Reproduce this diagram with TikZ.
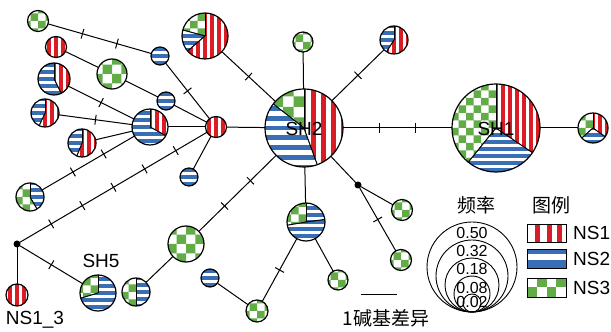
\documentclass[tikz,border=0pt]{standalone}
\usepackage{fontspec}
\setmainfont{Liberation Sans}
\newfontfamily\cjk{Noto Sans CJK SC}
\usetikzlibrary{calc}
\definecolor{nsred}{RGB}{218,28,36}
\definecolor{nsblue}{RGB}{58,110,180}
\definecolor{nsgreen}{RGB}{98,172,72}
\newcommand\pscale{1}
\newcommand{\patR}[2]{%
  \pgfmathsetmacro\hpp{7*\pscale}%
  \pgfmathsetmacro\hww{3.3*\pscale}%
  \pgfmathtruncatemacro\hnn{#2/\hpp+1}%
  \foreach \k in {-\hnn,...,\hnn}{%
    \fill[nsred] ($(#1.center)+(\k*\hpp-0.5*\hww,-#2-1)$) rectangle ++(\hww,2*#2+2);}%
}
\newcommand{\patB}[2]{%
  \pgfmathsetmacro\hpp{7*\pscale}%
  \pgfmathsetmacro\hww{3.5*\pscale}%
  \pgfmathtruncatemacro\hnn{#2/\hpp+1}%
  \foreach \k in {-\hnn,...,\hnn}{%
    \fill[nsblue] ($(#1.center)+(-#2-1,\k*\hpp-0.5*\hww)$) rectangle ++(2*#2+2,\hww);}%
}
\newcommand{\patG}[2]{%
  \pgfmathsetmacro\hss{7.5*\pscale}%
  \pgfmathtruncatemacro\hnn{#2/(2*\hss)+1}%
  \fill[nsgreen,even odd rule] \foreach \k in {-\hnn,...,\hnn}{
    ($(#1.center)+(2*\k*\hss,-#2-\hss)$) rectangle ++(\hss,2*#2+2*\hss)
    ($(#1.center)+(-#2-\hss,2*\k*\hss)$) rectangle ++(2*#2+2*\hss,\hss)};%
}
\newcommand{\hslice}[5]{%
  \begin{scope}
    \clip (#1.center) -- ++(#3:#2) arc[start angle=#3, end angle=#4, radius=#2] -- cycle;
    \fill[white] (#1.center) circle[radius=#2+1];
    \csname pat#5\endcsname{#1}{#2}%
  \end{scope}
  \draw[sl] (#1.center) -- ++(#3:#2);
  \draw[sl] (#1.center) -- ++(#4:#2);
}
\newcommand{\hfull}[3]{%
  \begin{scope}
    \clip (#1.center) circle[radius=#2];
    \fill[white] (#1.center) circle[radius=#2];
    \csname pat#3\endcsname{#1}{#2}%
  \end{scope}
}
\newcommand{\hring}[2]{\draw[hring] (#1.center) circle[radius=#2];}
\newcommand{\tkr}{\rule{1pt}{10pt}}
\tikzset{
  hap/.style={circle,inner sep=0pt,outer sep=0pt,minimum size=#1},
  jdot/.style={circle,fill=black,inner sep=0pt,outer sep=0pt,minimum size=7pt},
  lnk/.style={line width=1pt},
  tk/.style={sloped,inner sep=0pt,outer sep=0pt,anchor=center},
  sl/.style={line width=0.9pt},
  hring/.style={line width=1.2pt},
  lab/.style={font=\fontsize{19}{22}\selectfont,inner sep=0pt},
  cjklab/.style={font=\cjk\fontsize{19}{22}\selectfont,inner sep=0pt},
  frq/.style={font=\fontsize{16}{18}\selectfont,inner sep=0pt},
  legc/.style={line width=0.9pt}
}
\begin{document}
\begin{tikzpicture}[x=1pt,y=1pt]
\useasboundingbox (0,0) rectangle (611,332);
% nodes
\node[hap=21] (A) at (38,311) {};
\node[hap=21] (B) at (56,285) {};
\node[hap=18] (C) at (160,276) {};
\node[hap=30] (D) at (112,258) {};
\node[hap=32] (E) at (54,253) {};
\node[hap=18] (F) at (166,231) {};
\node[hap=28] (G) at (45,219) {};
\node[hap=36] (H) at (150,205) {};
\node[hap=21] (I) at (216,205) {};
\node[hap=28] (J) at (82,189) {};
\node[hap=18] (K) at (189,155) {};
\node[hap=28] (L) at (30,135) {};
\node[jdot] (M) at (17,88) {};
\node[hap=22] (NA) at (17,37) {};
\node[hap=36] (SHe) at (98,39) {};
\node[hap=28] (N) at (136,40) {};
\node[hap=36] (O) at (186,88) {};
\node[hap=18] (P) at (210,54) {};
\node[hap=78] (SHb) at (304,204) {};
\node[hap=20] (Q) at (303,290) {};
\node[hap=28] (R) at (394,292) {};
\node[hap=46] (S) at (205,296) {};
\node[hap=88] (SHa) at (496,204) {};
\node[hap=30] (T) at (593,204) {};
\node[hap=38] (U) at (306,110) {};
\node[hap=20] (V) at (338,52) {};
\node[hap=22] (W) at (257,21) {};
\node[jdot] (X) at (358,147) {};
\node[hap=21] (Y) at (402,122) {};
\node[hap=21] (Z) at (401,72) {};
% edges
\draw[lnk] (A) -- node[tk,pos=0.3333]{\tkr} node[tk,pos=0.6667]{\tkr} (C);
\draw[lnk] (B) -- (D);
\draw[lnk] (D) -- (F);
\draw[lnk] (F) -- (I);
\draw[lnk] (C) -- node[tk,pos=0.5]{\tkr} (I);
\draw[lnk] (E) -- node[tk,pos=0.5]{\tkr} (H);
\draw[lnk] (G) -- node[tk,pos=0.5]{\tkr} (H);
\draw[lnk] (J) -- (H);
\draw[lnk] (L) -- node[tk,pos=0.3333]{\tkr} node[tk,pos=0.6667]{\tkr} (H);
\draw[lnk] (H) -- (I);
\draw[lnk] (I) -- (K);
\draw[lnk] (M) -- node[tk,pos=0.1667]{\tkr} node[tk,pos=0.3333]{\tkr} node[tk,pos=0.5]{\tkr} node[tk,pos=0.6667]{\tkr} node[tk,pos=0.8333]{\tkr} (I);
\draw[lnk] (M) -- (NA);
\draw[lnk] (M) -- node[tk,pos=0.5]{\tkr} (SHe);
\draw[lnk] (I) -- (SHb);
\draw[lnk] (S) -- node[tk,pos=0.5]{\tkr} (SHb);
\draw[lnk] (Q) -- (SHb);
\draw[lnk] (R) -- node[tk,pos=0.5]{\tkr} (SHb);
\draw[lnk] (SHb) -- node[tk,pos=0.3333]{\tkr} node[tk,pos=0.6667]{\tkr} (SHa);
\draw[lnk] (SHa) -- (T);
\draw[lnk] (SHb) -- (U);
\draw[lnk] (SHb) -- (X);
\draw[lnk] (X) -- (Y);
\draw[lnk] (X) -- node[tk,pos=0.5]{\tkr} (Z);
\draw[lnk] (U) -- (V);
\draw[lnk] (U) -- node[tk,pos=0.5]{\tkr} (W);
\draw[lnk] (O) -- node[tk,pos=0.3333]{\tkr} node[tk,pos=0.6667]{\tkr} (SHb);
\draw[lnk] (N) -- (O);
\draw[lnk] (P) -- (W);
% pies
\hfull{A}{10.5}{G}\hring{A}{10.5}
\hfull{B}{10.5}{R}\hring{B}{10.5}
\hfull{C}{9}{B}\hring{C}{9}
\renewcommand\pscale{1.25}
\hfull{D}{15}{G}\hring{D}{15}
\hfull{O}{18}{G}\hring{O}{18}
\renewcommand\pscale{1}
\hslice{E}{16}{-63}{90}{R}\hslice{E}{16}{90}{297}{B}\hring{E}{16}
\hfull{F}{9}{B}\hring{F}{9}
\hslice{G}{14}{-115}{90}{R}\hslice{G}{14}{90}{245}{B}\hring{G}{14}
\hslice{H}{18}{-29}{90}{R}\hslice{H}{18}{90}{331}{B}\hring{H}{18}
\hfull{I}{10.5}{R}\hring{I}{10.5}
\hslice{J}{14}{-112}{90}{R}\hslice{J}{14}{90}{248}{B}\hring{J}{14}
\hfull{K}{9}{B}\hring{K}{9}
\hslice{L}{14}{-60}{90}{B}\hslice{L}{14}{90}{300}{G}\hring{L}{14}
\hfull{NA}{11}{R}\hring{NA}{11}
\hslice{SHe}{18}{90}{197}{G}\hslice{SHe}{18}{197}{450}{B}\hring{SHe}{18}
\hslice{N}{14}{90}{270}{G}\hslice{N}{14}{-90}{90}{B}\hring{N}{14}
\hfull{P}{9}{B}\hring{P}{9}
\renewcommand\pscale{1.4}
\hslice{SHb}{39}{90}{142}{G}\hslice{SHb}{39}{142}{290}{B}\hslice{SHb}{39}{-70}{90}{R}\hring{SHb}{39}
\renewcommand\pscale{1}
\hfull{Q}{10}{G}\hring{Q}{10}
\hslice{R}{14}{90}{238}{B}\hslice{R}{14}{-122}{90}{R}\hring{R}{14}
\hslice{S}{23}{90}{165}{G}\hslice{S}{23}{165}{221}{B}\hslice{S}{23}{-139}{90}{R}\hring{S}{23}
\hslice{SHa}{44}{90}{231}{G}\hslice{SHa}{44}{231}{326}{B}\hslice{SHa}{44}{-34}{90}{R}\hring{SHa}{44}
\hslice{T}{15}{90}{222}{G}\hslice{T}{15}{222}{325}{B}\hslice{T}{15}{-35}{90}{R}\hring{T}{15}
\hslice{U}{19}{90}{190}{G}\hslice{U}{19}{190}{368}{B}\hslice{U}{19}{8}{90}{B}\hring{U}{19}
\hfull{V}{10}{G}\hring{V}{10}
\hfull{W}{11}{G}\hring{W}{11}
\hfull{Y}{10.5}{G}\hring{Y}{10.5}
\hfull{Z}{10.5}{G}\hring{Z}{10.5}
% labels
\node[lab,anchor=base] (tSHb) at (304,196) {SH2};
\node[lab,anchor=base] (tSHa) at (496,196) {SH1};
\node[lab,anchor=base] (tSHe) at (101,64) {SH5};
\node[lab,anchor=base] (tNA) at (35,7) {NS1\_3};
% scale bar
\coordinate (sb1) at (361,37);
\coordinate (sb2) at (397,37);
\draw[lnk] (sb1) -- (sb2);
\node[cjklab] (tsb) at (386,14) {1碱基差异};
% frequency legend
\node[cjklab] (tfrq) at (476,127) {频率};
\node[cjklab] (tleg) at (551.5,127) {图例};
\coordinate (fb) at (472,20);
\draw[legc] ($(fb)+(0,45)$) circle[radius=45];
\draw[legc] ($(fb)+(0,36)$) circle[radius=36];
\draw[legc] ($(fb)+(0,27)$) circle[radius=27];
\draw[legc] ($(fb)+(0,18)$) circle[radius=18];
\draw[legc] ($(fb)+(0,9)$) circle[radius=9];
\node[frq] (f1) at (472,99) {0.50};
\node[frq] (f2) at (472,81) {0.32};
\node[frq] (f3) at (472,63) {0.18};
\node[frq] (f4) at (472,44) {0.08};
\node[frq] (f5) at (472,30) {0.02};
% pattern legend
\fill[white] (527,90) rectangle (566,108);
\fill[nsred] (535,90) rectangle (540,108);
\fill[nsred] (546.5,90) rectangle (551.5,108);
\fill[nsred] (556.5,90) rectangle (561.5,108);
\draw[legc] (527,90) rectangle (566,108);
\fill[nsblue] (527,78) rectangle (566,83);
\fill[nsblue] (527,64) rectangle (566,71.5);
\draw[legc] (527,64) rectangle (566,83);
\fill[nsgreen] (536.75,44.5) rectangle (546.5,54);
\fill[nsgreen] (556.25,44.5) rectangle (566,54);
\fill[nsgreen] (527,35) rectangle (536.75,44.5);
\fill[nsgreen] (546.5,35) rectangle (556.25,44.5);
\draw[legc] (527,35) rectangle (566,54);
\node[lab,anchor=west] (l1) at (573,99) {NS1};
\node[lab,anchor=west] (l2) at (573,73.5) {NS2};
\node[lab,anchor=west] (l3) at (573,44.5) {NS3};
\end{tikzpicture}
\end{document}
